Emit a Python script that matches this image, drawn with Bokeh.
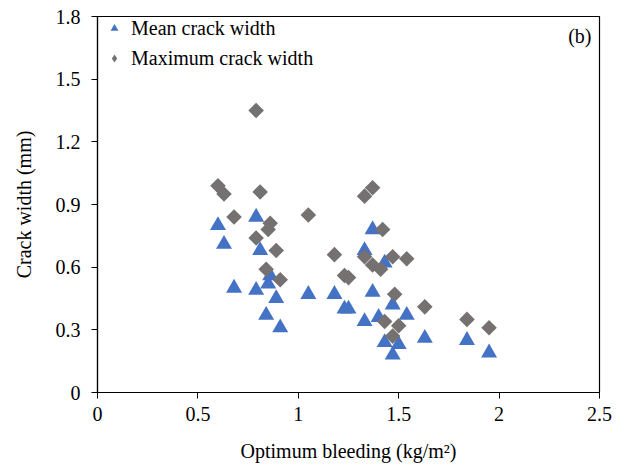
from bokeh.plotting import figure
from bokeh.models import Range1d, FixedTicker, Legend, LegendItem, Label
from bokeh.embed import file_html
from bokeh.resources import INLINE
import math

# Mean crack width (triangles)
mean_bleeding = [0.60, 0.63, 0.68, 0.79, 0.79, 0.81, 0.84, 0.85, 0.86, 0.89, 0.91,
                 1.05, 1.18, 1.23, 1.25, 1.33, 1.37, 1.37, 1.33, 1.40, 1.43, 1.47,
                 1.54, 1.43, 1.50, 1.47, 1.63, 1.84, 1.95]
mean_width = [0.80, 0.71, 0.50, 0.84, 0.49, 0.68, 0.37, 0.52, 0.56, 0.45, 0.31,
              0.47, 0.47, 0.40, 0.40, 0.68, 0.78, 0.48, 0.34, 0.36, 0.62, 0.42,
              0.37, 0.24, 0.23, 0.18, 0.26, 0.25, 0.19]

# Maximum crack width (diamonds)
max_bleeding = [0.60, 0.63, 0.68, 0.79, 0.79, 0.81, 0.84, 0.85, 0.86, 0.89, 0.91,
                1.05, 1.18, 1.23, 1.25, 1.33, 1.37, 1.33, 1.37, 1.41, 1.42, 1.47,
                1.54, 1.48, 1.43, 1.50, 1.47, 1.63, 1.84, 1.95]
max_width = [0.99, 0.95, 0.84, 1.35, 0.74, 0.96, 0.59, 0.78, 0.81, 0.68, 0.54,
             0.85, 0.66, 0.56, 0.55, 0.94, 0.98, 0.65, 0.61, 0.59, 0.78, 0.65,
             0.64, 0.47, 0.34, 0.32, 0.27, 0.41, 0.35, 0.31]

x_ticks = [0, 0.5, 1, 1.5, 2, 2.5]
x_tick_labels = ["0", "0.5", "1", "1.5", "2", "2.5"]
y_ticks = [0, 0.3, 0.6, 0.9, 1.2, 1.5, 1.8]
y_tick_labels = ["0", "0.3", "0.6", "0.9", "1.2", "1.5", "1.8"]

FONT = "Liberation Serif"
BLUE = "#4472C4"
GRAY = "#767171"

p = figure(width=624, height=472, output_backend="svg", toolbar_location=None,
           x_range=Range1d(0, 2.5), y_range=Range1d(0, 1.8),
           min_border_left=97, min_border_right=25, min_border_top=16,
           min_border_bottom=80)

p.xgrid.visible = False
p.ygrid.visible = False
p.outline_line_color = "black"
p.outline_line_width = 1.2
p.background_fill_color = "white"
p.border_fill_color = "white"

tri = p.scatter(mean_bleeding, mean_width, marker="triangle", size=16,
                fill_color=BLUE, line_color=None)
dia = p.scatter(max_bleeding, max_width, marker="square", size=11, angle=math.pi / 4,
                fill_color=GRAY, line_color=None)
# legend-only glyph (NaN point is never drawn in the plot area)
dia_leg = p.scatter([float("nan")], [float("nan")], marker="diamond", size=8,
                    fill_color=GRAY, line_color=None)

for ax, ticks, labels in ((p.xaxis[0], x_ticks, x_tick_labels),
                          (p.yaxis[0], y_ticks, y_tick_labels)):
    ax.ticker = FixedTicker(ticks=ticks)
    ax.major_label_overrides = {t: l for t, l in zip(ticks, labels)}
    ax.minor_tick_line_color = None
    ax.major_tick_in = 0
    ax.major_tick_out = 6
    ax.axis_line_color = "black"
    ax.major_tick_line_color = "black"
    ax.axis_line_width = 1.2
    ax.major_label_text_font = FONT
    ax.major_label_text_font_size = "20px"
    ax.major_label_text_color = "black"
    ax.axis_label_text_font = FONT
    ax.axis_label_text_font_size = "20px"
    ax.axis_label_text_font_style = "normal"
    ax.axis_label_text_color = "black"

p.xaxis[0].axis_label = "Optimum bleeding (kg/m²)"
p.yaxis[0].axis_label = "Crack width (mm)"
p.xaxis[0].major_label_standoff = 8
p.yaxis[0].major_label_standoff = 11
p.xaxis[0].axis_label_standoff = 16
p.yaxis[0].axis_label_standoff = 18

legend = Legend(items=[LegendItem(label="Mean crack width", renderers=[tri]),
                       LegendItem(label="Maximum crack width", renderers=[dia_leg])],
                location="top_left", margin=0, padding=5, spacing=6,
                glyph_width=34, glyph_height=20, label_height=24, label_standoff=0,
                label_text_font=FONT, label_text_font_size="20px",
                label_text_color="black",
                border_line_color=None, background_fill_alpha=0)
p.add_layout(legend)

p.add_layout(Label(x=2.46, y=1.705, text="(b)", text_align="right",
                   text_baseline="middle", text_font=FONT, text_font_size="20px",
                   text_color="black"))

open("out.html", "w").write(file_html(p, INLINE))
